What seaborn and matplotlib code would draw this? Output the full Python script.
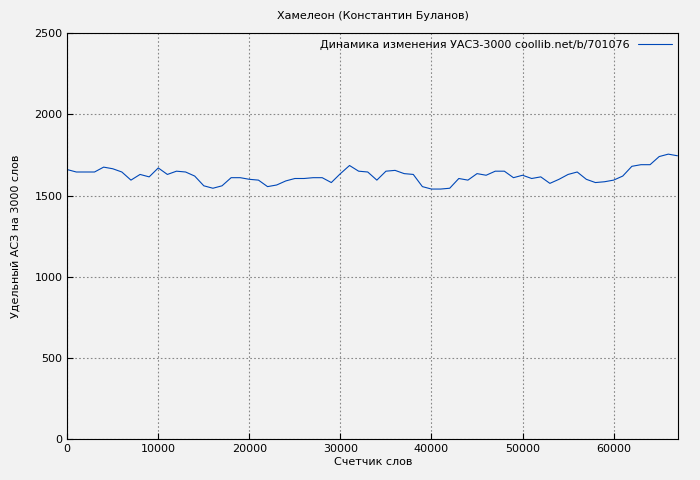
import matplotlib
matplotlib.use("Agg")
import matplotlib.pyplot as plt
import seaborn as sns
import numpy as np

words = np.arange(0, 68000, 1000)
uasz = [1660, 1645, 1645, 1645, 1675, 1665, 1645, 1595, 1630, 1615,
        1670, 1630, 1650, 1645, 1620, 1560, 1545, 1560, 1610, 1610,
        1600, 1595, 1555, 1565, 1590, 1605, 1605, 1610, 1610, 1580,
        1635, 1685, 1650, 1645, 1595, 1650, 1655, 1635, 1630, 1555,
        1540, 1540, 1545, 1605, 1595, 1635, 1625, 1650, 1650, 1610,
        1625, 1605, 1615, 1575, 1600, 1630, 1645, 1600, 1580, 1585,
        1595, 1620, 1680, 1690, 1690, 1740, 1755, 1745]

sns.set_style("ticks")
plt.rcParams['font.family'] = ['DejaVu Sans']
plt.rcParams['text.color'] = 'black'
plt.rcParams['xtick.color'] = 'black'
plt.rcParams['ytick.color'] = 'black'
plt.rcParams['axes.labelcolor'] = 'black'
fig, ax = plt.subplots(figsize=(7, 4.8), dpi=100)
fig.patch.set_facecolor('#f2f2f2')
ax.set_facecolor('#f2f2f2')

sns.lineplot(x=words, y=uasz, ax=ax, color='#0048b8', linewidth=0.8,
             label='Динамика изменения УАСЗ-3000 coollib.net/b/701076')

ax.set_xlim(0, 67100)
ax.set_ylim(0, 2500)
ax.set_xticks(range(0, 67000, 10000))
ax.set_yticks(range(0, 2501, 500))
ax.grid(True, color='#888888', linestyle=(0, (1.5, 2)), linewidth=0.8)
for s in ax.spines.values():
    s.set_color('black')
ax.tick_params(labelsize=8, direction='in', length=4)
ax.set_xlabel('Счетчик слов', fontsize=8, labelpad=2)
ax.set_ylabel('Удельный АСЗ на 3000 слов', fontsize=8, labelpad=10)
ax.set_title('Хамелеон (Константин Буланов)', fontsize=8, pad=10)
leg = ax.legend(loc='upper right', fontsize=8, frameon=False, markerfirst=False,
                handlelength=3, borderaxespad=0.2)

plt.subplots_adjust(left=0.096, right=0.969, top=0.931, bottom=0.085)
plt.savefig('out.png', dpi=100, facecolor=fig.get_facecolor())
